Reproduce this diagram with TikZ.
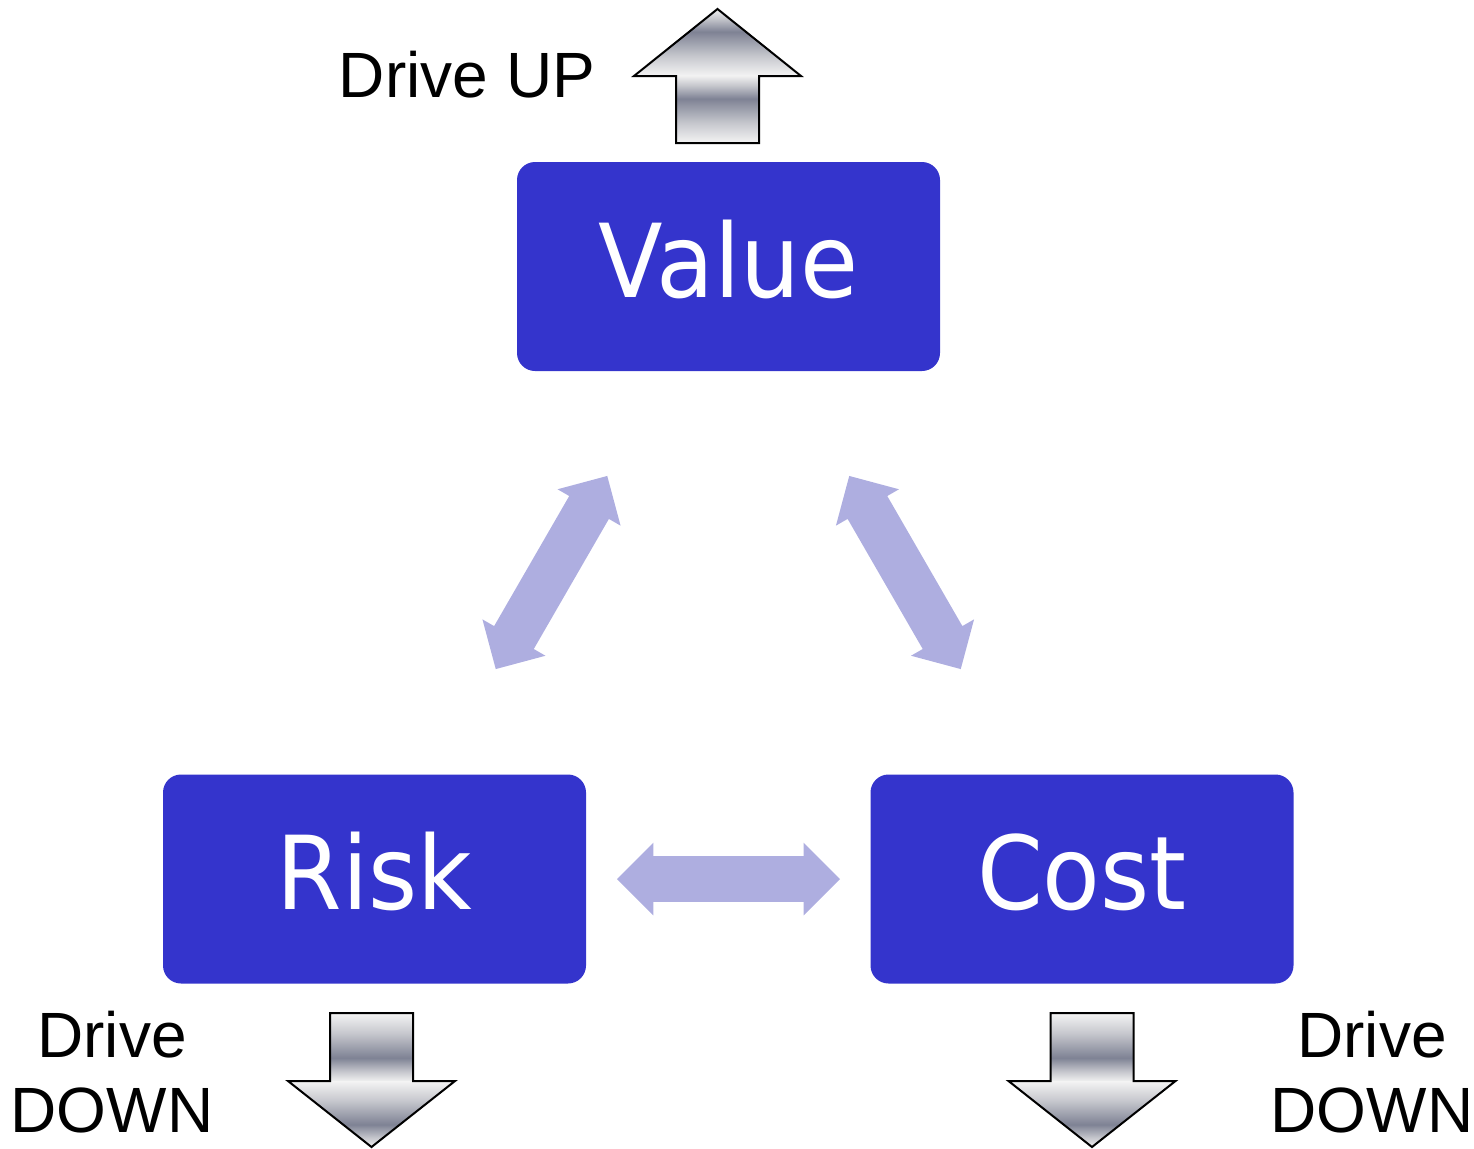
\documentclass[tikz,border=0pt]{standalone}
\usepackage{fontspec}
\setmainfont{Liberation Sans}
\newfontfamily\boxfont[FakeStretch=0.925]{DejaVu Sans}
\usetikzlibrary{shapes.arrows}
\definecolor{boxblue}{HTML}{3434CC}
\definecolor{linkblue}{HTML}{AEAEE0}
\definecolor{steellow}{HTML}{F4F4F4}
\definecolor{steelmid}{HTML}{C6C7CD}
\definecolor{steeldark}{HTML}{7E8294}
\definecolor{steelhigh}{HTML}{F0F0F0}
% the path is fitted to 25bp--75bp of the shading
\pgfdeclareverticalshading{steel}{100bp}{color(0bp)=(steellow); color(25bp)=(steellow);
  color(40bp)=(steelmid); color(58bp)=(steeldark); color(68bp)=(steelmid);
  color(75bp)=(steelhigh); color(100bp)=(steelhigh)}
\tikzset{
  block/.style={fill=boxblue, rounded corners=9pt, minimum width=211.5pt,
    minimum height=104.5pt, inner sep=0pt, text=white,
    font=\boxfont\fontsize{51}{51}\selectfont, text height=30.5pt, text depth=0pt},
  link/.style={double arrow, fill=linkblue, inner xsep=0pt, inner ysep=11.25pt,
    minimum height=111.5pt, double arrow head extend=6.75pt},
  tag/.style={font=\fontsize{32}{37.5}\selectfont, align=center},
  metal/.style={shading=steel},
  metal edge/.style={draw=black, line width=1pt, line join=miter},
}
\begin{document}
\begin{tikzpicture}[x=0.5pt, y=-0.5pt]
  \useasboundingbox (0,0) rectangle (1474,1148);
  % the three boxes
  \node[block] (value) at (728.5,266.5) {Value};
  \node[block] (risk) at (374.5,879) {Risk};
  \node[block] (cost) at (1082,879) {Cost};
  % links between them
  \node[link, rotate=60] (valuerisk) at (551.5,572.5) {};
  \node[link, rotate=-60] (valuecost) at (905,572.5) {};
  \node[link] (riskcost) at (728.5,879) {};
  % drive up
  \begin{scope}[shift={(717.5,143)}, yscale=-1]
    \shade[metal, shading angle=0] (-41.5,0) rectangle (41.5,67);
    \shade[metal, shading angle=0] (-83.5,67) -- (0,134) -- (83.5,67) -- cycle;
    \draw[metal edge] (-41.5,0) -- (41.5,0) -- (41.5,67) -- (83.5,67) -- (0,134)
      -- (-83.5,67) -- (-41.5,67) -- cycle;
  \end{scope}
  % drive down
  \begin{scope}[shift={(371.5,1013)}]
    \shade[metal, shading angle=180] (-41.5,0) rectangle (41.5,68);
    \shade[metal, shading angle=180] (-83.5,68) -- (0,134) -- (83.5,68) -- cycle;
    \draw[metal edge] (-41.5,0) -- (41.5,0) -- (41.5,68) -- (83.5,68) -- (0,134)
      -- (-83.5,68) -- (-41.5,68) -- cycle;
  \end{scope}
  \begin{scope}[shift={(1092,1013)}]
    \shade[metal, shading angle=180] (-41.5,0) rectangle (41.5,68);
    \shade[metal, shading angle=180] (-83.5,68) -- (0,134) -- (83.5,68) -- cycle;
    \draw[metal edge] (-41.5,0) -- (41.5,0) -- (41.5,68) -- (83.5,68) -- (0,134)
      -- (-83.5,68) -- (-41.5,68) -- cycle;
  \end{scope}
  % labels
  \node[tag, anchor=base] (up) at (467,97) {Drive UP};
  \node[tag] (downrisk) at (112,1072) {Drive\\DOWN};
  \node[tag] (downcost) at (1372,1072) {Drive\\DOWN};
\end{tikzpicture}
\end{document}
